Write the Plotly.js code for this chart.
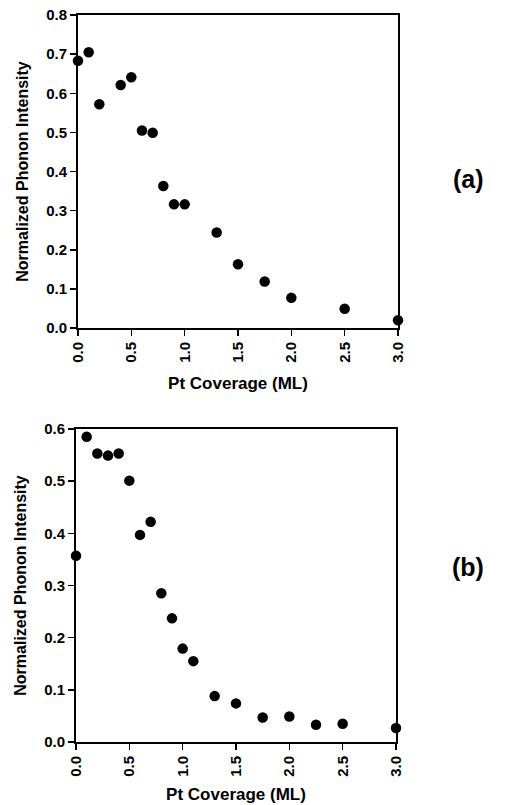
<!DOCTYPE html>
<html>
<head>
<meta charset="utf-8">
<script src="https://cdn.plot.ly/plotly-3.0.1.min.js"></script>
<style>html,body{margin:0;padding:0;background:#fff;}#chart{width:505px;height:805px;}</style>
</head>
<body>
<div id="chart"></div>
<script>
// Panel (a)
const coverageA = [0, 0.1, 0.2, 0.4, 0.5, 0.6, 0.7, 0.8, 0.9, 1.0, 1.3, 1.5, 1.75, 2.0, 2.5, 3.0];
const intensityA = [0.683, 0.705, 0.572, 0.621, 0.641, 0.505, 0.499, 0.363, 0.316, 0.316, 0.244, 0.163, 0.119, 0.077, 0.049, 0.020];
// Panel (b)
const coverageB = [0, 0.1, 0.2, 0.3, 0.4, 0.5, 0.6, 0.7, 0.8, 0.9, 1.0, 1.1, 1.3, 1.5, 1.75, 2.0, 2.25, 2.5, 3.0];
const intensityB = [0.357, 0.585, 0.553, 0.549, 0.553, 0.501, 0.397, 0.422, 0.285, 0.237, 0.179, 0.155, 0.088, 0.074, 0.047, 0.049, 0.033, 0.035, 0.027];

const xTicks = [0, 0.5, 1.0, 1.5, 2.0, 2.5, 3.0];
const xTickText = ['0.0', '0.5', '1.0', '1.5', '2.0', '2.5', '3.0'];
const yTicksA = [0, 0.1, 0.2, 0.3, 0.4, 0.5, 0.6, 0.7, 0.8];
const yTicksB = [0, 0.1, 0.2, 0.3, 0.4, 0.5, 0.6];
const xTitle = 'Pt Coverage (ML)';
const yTitle = 'Normalized Phonon Intensity';
const panelLabels = ['(a)', '(b)'];

const FONT = 'Liberation Sans, Arial, sans-serif';
const marker = {size: 10.5, color: '#000'};

const traces = [
  {x: coverageA, y: intensityA, type: 'scatter', mode: 'markers', marker: marker, xaxis: 'x', yaxis: 'y', cliponaxis: false},
  {x: coverageB, y: intensityB, type: 'scatter', mode: 'markers', marker: marker, xaxis: 'x2', yaxis: 'y2', cliponaxis: false}
];

function xax(domain, anchor, standoff) {
  return {
    domain: domain, anchor: anchor, range: [0, 3.0], tickvals: xTicks, ticktext: xTickText,
    tickangle: -90, ticks: 'outside', ticklen: 6, tickwidth: 1.5, tickcolor: '#000',
    showline: true, linewidth: 2, linecolor: '#000', mirror: true, showgrid: false, zeroline: false,
    tickfont: {family: FONT, size: 15, color: '#000', weight: 'bold'},
    title: {text: xTitle, font: {family: FONT, size: 17, color: '#000', weight: 'bold'}, standoff: standoff},
    automargin: false
  };
}
function yax(domain, anchor, ticks, top) {
  return {
    domain: domain, anchor: anchor, range: [0, top], tickvals: ticks, ticktext: ticks.map(v => v.toFixed(1)),
    ticks: 'outside', ticklen: 6, tickwidth: 1.5, tickcolor: '#000',
    showline: true, linewidth: 2, linecolor: '#000', mirror: true, showgrid: false, zeroline: false,
    tickfont: {family: FONT, size: 15, color: '#000', weight: 'bold'},
    title: {text: yTitle, font: {family: FONT, size: 16, color: '#000', weight: 'bold'}, standoff: 14},
    automargin: false
  };
}

const layout = {
  width: 505, height: 805, showlegend: false,
  margin: {l: 0, r: 0, t: 0, b: 0},
  paper_bgcolor: '#fff', plot_bgcolor: '#fff',
  xaxis: xax([78/505, 398/505], 'y', 15),
  yaxis: yax([1 - 328/805, 1 - 15/805], 'x', yTicksA, 0.8),
  xaxis2: xax([76/505, 396/505], 'y2', 12),
  yaxis2: yax([1 - 742/805, 1 - 429/805], 'x2', yTicksB, 0.6),
  annotations: [
    {text: panelLabels[0], xref: 'paper', yref: 'paper', x: 486/505, y: 1 - 163/805, showarrow: false,
     font: {family: FONT, size: 25, color: '#000', weight: 'bold'}},
    {text: panelLabels[1], xref: 'paper', yref: 'paper', x: 486/505, y: 1 - 583/805, showarrow: false,
     font: {family: FONT, size: 25, color: '#000', weight: 'bold'}}
  ]
};

Plotly.newPlot('chart', traces, layout, {staticPlot: true, displayModeBar: false});
</script>
</body>
</html>
